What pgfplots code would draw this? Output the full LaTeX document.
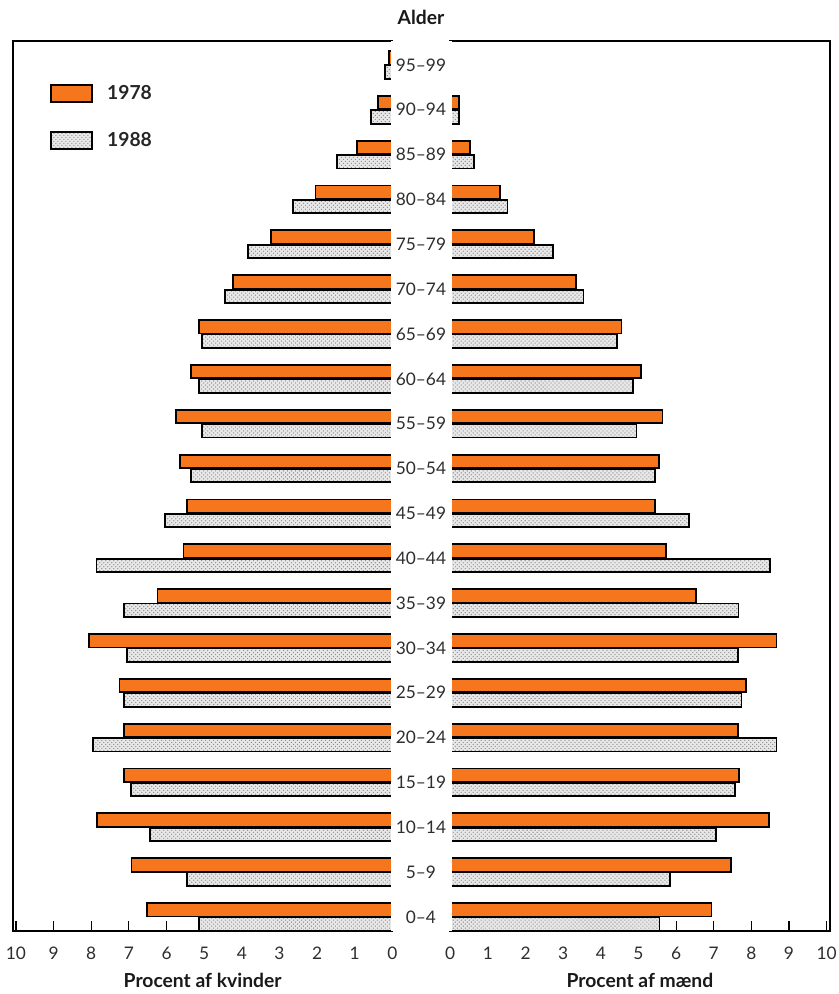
\documentclass[border=0pt]{standalone}
\usepackage{pgfplots}
\pgfplotsset{compat=1.18}
\usepackage{fontspec}
\setmainfont{Lato}
\usetikzlibrary{patterns}
\definecolor{barorange}{RGB}{246,118,30}
\definecolor{txt}{RGB}{45,45,45}

% index: 0 = 0-4 ... 19 = 95-99
\pgfplotstableread{
y  w78  w88  m78  m88
0  6.53 5.13 6.94 5.56
1  6.93 5.45 7.47 5.85
2  7.84 6.45 8.47 7.06
3  7.14 6.94 7.68 7.57
4  7.14 7.95 7.64 8.67
5  7.25 7.14 7.86 7.74
6  8.07 7.06 8.67 7.64
7  6.24 7.14 6.54 7.66
8  5.55 7.86 5.74 8.49
9  5.45 6.04 5.45 6.35
10 5.65 5.34 5.55 5.45
11 5.74 5.05 5.64 4.95
12 5.34 5.13 5.07 4.86
13 5.13 5.05 4.55 4.44
14 4.23 4.44 3.35 3.54
15 3.23 3.84 2.23 2.72
16 2.04 2.65 1.33 1.52
17 0.95 1.46 0.53 0.64
18 0.37 0.56 0.24 0.24
19 0.10 0.19 0.00 0.00
}\pyr

\pgfplotsset{
  pyr/.style={
    scale only axis, width=285pt, height=669pt,
    xmin=0, xmax=10.08, ymin=-0.323, ymax=19.535,
    xbar, bar width=0.30, clip=false,
    axis line style={draw=none},
    xtick={0,...,10}, ytick=\empty,
    xtick pos=bottom, tick align=inside,
    major tick length=8pt,
    xtick style={draw=black, line width=0.8pt},
    xticklabel style={font=\fontsize{13}{13}\selectfont, text=txt, anchor=center, yshift=-16.5pt},
    /pgf/number format/assume math mode=true,
    xlabel style={font=\fontsize{14.5}{14.5}\selectfont\bfseries, text=black!90,
      at={(axis description cs:0.5,0)}, anchor=center, yshift=-37pt},
  },
  s78/.style={draw=black, line width=1.4pt, fill=barorange, bar shift=0.16},
  s88/.style={draw=black, line width=1.4pt, fill=black!9,
     postaction={pattern=crosshatch dots, pattern color=black!45}, bar shift=-0.16},
}

\begin{document}
\begin{tikzpicture}
\begin{axis}[pyr, name=left, x dir=reverse,
  xlabel={Procent af kvinder},
  legend image code/.code={\draw[#1, bar shift=0pt] (0pt,-6.3pt) rectangle (30.5pt,6.3pt);},
  legend style={at={(axis description cs:0.097,0.953)}, anchor=north west,
    draw=none, fill=none, inner sep=0pt, row sep=19pt,
    font=\fontsize{14.5}{14.5}\selectfont\bfseries, text=black!85,
    nodes={inner xsep=11pt}},
  legend cell align=left]
  \addplot[s78] table[x=w78, y=y] {\pyr};
  \addplot[s88] table[x=w88, y=y] {\pyr};
  \legend{1978,1988}
  \draw[line width=1.5pt, line cap=rect] (axis cs:0,19.535) -- (axis cs:10.08,19.535) -- (axis cs:10.08,-0.323) -- (axis cs:0,-0.323);
\end{axis}
\begin{axis}[pyr, name=right, at={(328.5pt,0pt)},
  xlabel={Procent af mænd}]
  \addplot[s78] table[x=m78, y=y] {\pyr};
  \addplot[s88] table[x=m88, y=y] {\pyr};
  \draw[line width=1.5pt, line cap=rect] (axis cs:0,19.535) -- (axis cs:10.08,19.535) -- (axis cs:10.08,-0.323) -- (axis cs:0,-0.323);
\end{axis}
\fill[white] ([xshift=-1pt]left.south east) rectangle ([xshift=1pt]right.north west);
\begin{axis}[scale only axis, width=285pt, height=669pt, at={(328.5pt,0pt)},
  xmin=0, xmax=10.08, ymin=-0.323, ymax=19.535,
  axis x line=none, axis y line*=left, y axis line style={draw=none},
  major tick length=0pt, ytick={0,...,19},
  yticklabels={0–4,5–9,10–14,15–19,20–24,25–29,30–34,35–39,40–44,45–49,50–54,55–59,60–64,65–69,70–74,75–79,80–84,85–89,90–94,95–99},
  yticklabel style={anchor=center, xshift=-22pt, font=\fontsize{13}{13}\selectfont, text=txt},
  title={Alder}, title style={font=\fontsize{14.5}{14.5}\selectfont\bfseries, text=black!90, at={(axis description cs:0,1)}, xshift=-22pt, anchor=center, yshift=12pt}]
\end{axis}
\pgfresetboundingbox
\path (-9.75pt,-47pt) rectangle (620.25pt,699.75pt);
\end{tikzpicture}
\end{document}
